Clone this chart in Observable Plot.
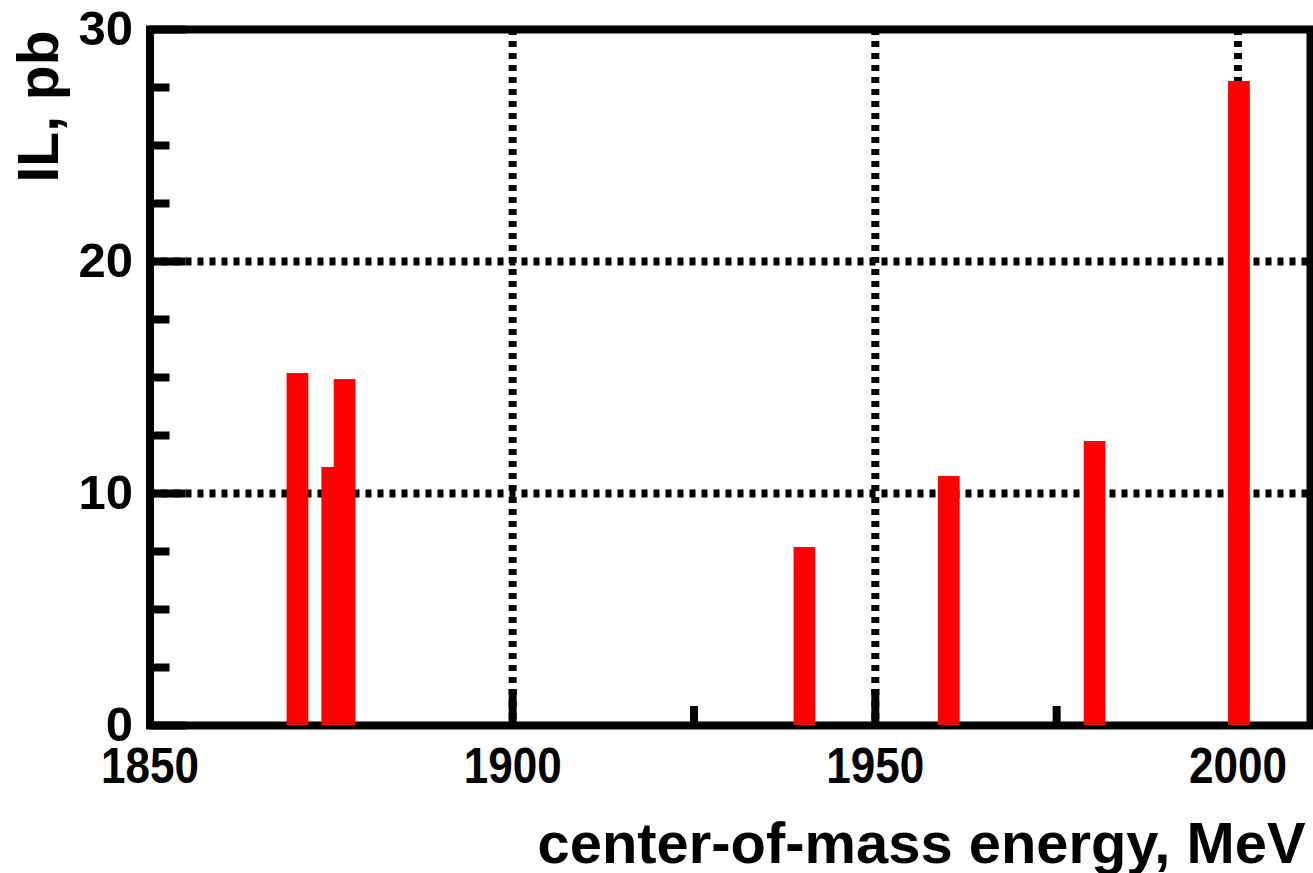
<!DOCTYPE html>
<html><head><meta charset="utf-8">
<script src="https://cdn.jsdelivr.net/npm/d3@7"></script>
<script src="https://cdn.jsdelivr.net/npm/@observablehq/plot@0.6"></script>
<style>body{margin:0;background:#fff} svg{display:block}</style>
</head><body><div id="chart"></div>
<script>
// Data
const energies   = [1870.4, 1875.2, 1876.9, 1940.3, 1960.2, 1980.3, 2000.2]; // MeV (bin centres)
const luminosity = [15.17, 11.12, 14.91, 7.67, 10.73, 12.24, 27.76];       // pb^-1
const binWidth = 3; // MeV
const xMajorTicks = [1850, 1900, 1950, 2000];
const xMinorTicks = [1875, 1925, 1975];
const yMajorTicks = [0, 10, 20, 30];
const yMinorTicks = [2.5, 5, 7.5, 12.5, 15, 17.5, 22.5, 25, 27.5];
const xGrid = [1900, 1950, 2000];
const yGrid = [10, 20];
const xTitle = "center-of-mass energy, MeV";
const yTitle = "IL, pb";

const bars = energies.map((e, i) => ({energy: e, il: luminosity[i]}));

const W = 1313, H = 873, mL = 149.5, mR = 3, mT = 29, mB = 148;
const plotH = H - mT - mB, plotW = W - mL - mR;

const chart = Plot.plot({
  width: W, height: H,
  marginLeft: mL, marginRight: mR, marginTop: mT, marginBottom: mB,
  x: {domain: [1850, 2010]},
  y: {domain: [0, 30]},
  style: {fontFamily: "'Liberation Sans', Arial, sans-serif", fontWeight: "bold", color: "black", background: "white"},
  marks: [
    Plot.ruleX(xGrid, {x: d => d, stroke: "black", strokeWidth: 8, strokeDasharray: "6,6"}),
    Plot.ruleY(yGrid, {y: d => d, stroke: "black", strokeWidth: 8, strokeDasharray: "6,6"}),
    Plot.tickX(xMinorTicks, {x: d => d, stroke: "black", strokeWidth: 8, insetTop: plotH - 19}),
    Plot.tickX(xMajorTicks, {x: d => d, stroke: "black", strokeWidth: 8, insetTop: plotH - 36}),
    Plot.tickY(yMinorTicks, {y: d => d, stroke: "black", strokeWidth: 8, insetRight: plotW - 20}),
    Plot.tickY(yMajorTicks, {y: d => d, stroke: "black", strokeWidth: 8, insetRight: plotW - 36}),
    Plot.frame({stroke: "black", strokeWidth: 8}),
    Plot.rectY(bars, {x1: d => d.energy - binWidth / 2, x2: d => d.energy + binWidth / 2, y: "il", fill: "red"}),
    Plot.axisX({ticks: xMajorTicks, tickSize: 0, tickPadding: 22, fontSize: 50, label: null, tickFormat: d => String(d)}),
    Plot.axisY({ticks: yMajorTicks, tickSize: 0, tickPadding: 17, fontSize: 49, label: null, tickFormat: d => String(d)}),
    Plot.text([xTitle], {text: d => d, frameAnchor: "bottom-right", textAnchor: "end", lineAnchor: "bottom", dx: -5, dy: 137, fontSize: 58}),
    Plot.text([yTitle], {text: d => d, frameAnchor: "top-left", rotate: -90, textAnchor: "end", lineAnchor: "bottom", dx: -92.5, dy: 1, fontSize: 57})
  ]
});
// narrow the x tick labels and title a little, as in the reference typeface
d3.select(chart).selectAll('g[aria-label="x-axis tick label"] text')
  .attr("textLength", 98).attr("lengthAdjust", "spacingAndGlyphs");
d3.select(chart).selectAll('g[aria-label="text"] text')
  .filter(function () { return this.textContent === xTitle; })
  .attr("textLength", 768).attr("lengthAdjust", "spacingAndGlyphs");
document.getElementById("chart").appendChild(chart);
</script>
</body></html>
